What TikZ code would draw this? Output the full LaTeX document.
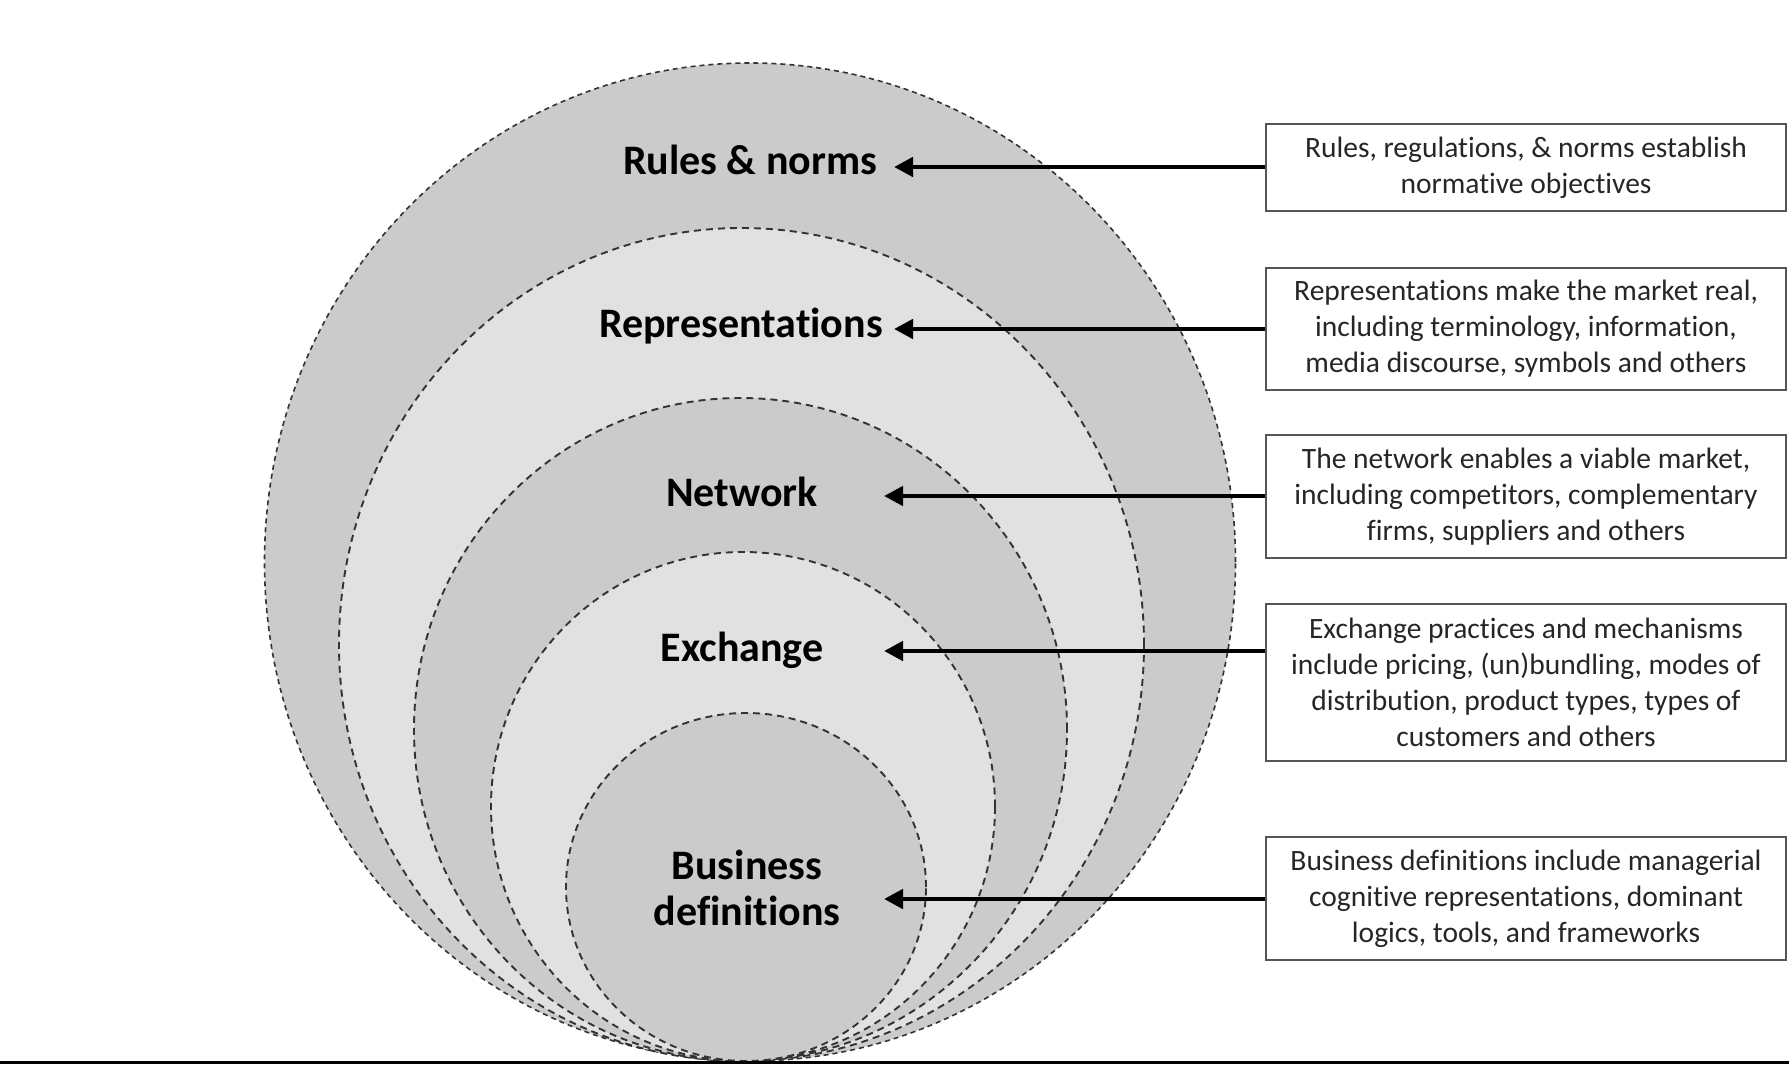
\documentclass[tikz,border=0pt]{standalone}
\usepackage{fontspec}
\setmainfont[Ligatures=NoCommon]{Carlito}
\usetikzlibrary{arrows.meta}
\definecolor{darkfill}{HTML}{CBCBCB}
\definecolor{lightfill}{HTML}{E1E1E1}
\definecolor{ringcol}{HTML}{333333}
\definecolor{boxcol}{HTML}{555555}
\begin{document}
\begin{tikzpicture}[x=1pt,y=-1pt,
  ring/.style={draw=ringcol, line width=1.9pt, dash pattern=on 7pt off 5pt},
  outerring/.style={draw=ringcol, line width=1.6pt, dash pattern=on 5pt off 4pt},
  lab/.style={font=\bfseries\fontsize{42}{46}\selectfont, align=center, inner sep=0pt},
  infobox/.style={draw=boxcol, line width=1.8pt, fill=white, minimum width=520pt, inner sep=0pt,
    align=center, font=\fontsize{29.5}{36}\selectfont, text=black!85},
  arr/.style={line width=4.6pt, -{Triangle[length=19pt,width=19pt]}}]
\useasboundingbox (0,0) rectangle (1789,1065);
\fill[white] (0,0) rectangle (1789,1065);
% nested shapes
\path[outerring, fill=darkfill] (750,562) ellipse [x radius=485.5pt, y radius=499pt];
\path[ring, fill=lightfill] (741.5,644.5) ellipse [x radius=402.5pt, y radius=416.5pt];
\path[ring, fill=darkfill] (740.5,729.5) ellipse [x radius=326.5pt, y radius=331.5pt];
\path[ring, fill=lightfill] (743,806.5) ellipse [x radius=252pt, y radius=254.5pt];
\path[ring, fill=darkfill] (746,887) ellipse [x radius=180pt, y radius=174pt];
% bottom rule
\draw[line width=3pt] (0,1062.5) -- (1789,1062.5);
% labels
\node[lab] (l1) at (750,160) {Rules \& norms};
\node[lab] (l2) at (741,326) {Representations};
\node[lab] (l3) at (742,492) {Network};
\node[lab] (l4) at (742,650) {Exchange};
\node[lab] (l5) at (747,888) {Business\\definitions};
% boxes
\node[infobox, minimum height=87pt] (b1) at (1526,167.5) {Rules, regulations, \& norms establish\\normative objectives};
\node[infobox, minimum height=122pt] (b2) at (1526,329) {Representations make the market real,\\including terminology, information,\\media discourse, symbols and others};
\node[infobox, minimum height=123pt] (b3) at (1526,496.5) {The network enables a viable market,\\including competitors, complementary\\firms, suppliers and others};
\node[infobox, minimum height=157pt] (b4) at (1526,682.5) {Exchange practices and mechanisms\\include pricing, (un)bundling, modes of\\distribution, product types, types of\\customers and others};
\node[infobox, minimum height=123pt] (b5) at (1526,898.5) {Business definitions include managerial\\cognitive representations, dominant\\logics, tools, and frameworks};
% arrow tips
\coordinate (t1) at (894,167);
\coordinate (t2) at (894,329);
\coordinate (t3) at (884,496);
\coordinate (t4) at (884,651);
\coordinate (t5) at (884,899);
\draw[arr] (b1.west |- t1) -- (t1);
\draw[arr] (b2.west |- t2) -- (t2);
\draw[arr] (b3.west |- t3) -- (t3);
\draw[arr] (b4.west |- t4) -- (t4);
\draw[arr] (b5.west |- t5) -- (t5);
\end{tikzpicture}
\end{document}
